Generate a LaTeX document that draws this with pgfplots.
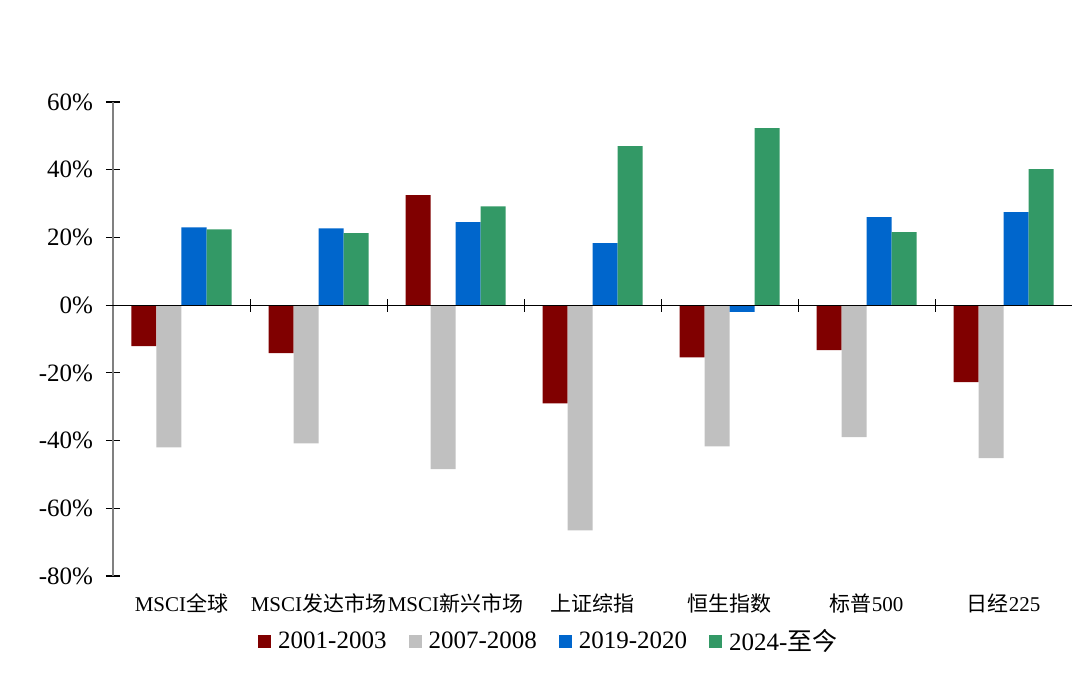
\documentclass[border=0pt]{standalone}
\usepackage{pgfplots}
\pgfplotsset{compat=1.18}
\usepackage{fontspec}
\setmainfont{Liberation Serif}
\newfontfamily\cjk{Noto Sans CJK SC}
\definecolor{cRed}{HTML}{800000}
\definecolor{cGray}{HTML}{C0C0C0}
\definecolor{cBlue}{HTML}{0066CC}
\definecolor{cGreen}{HTML}{339966}
\begin{document}
\begin{tikzpicture}
\begin{axis}[
    scale only axis,
    width=479.5pt, height=237pt,
    xmin=-0.5, xmax=6.5,
    ymin=-80, ymax=60,
    ytick={-80,-60,-40,-20,0,20,40,60},
    yticklabel={\pgfmathprintnumber{\tick}\%},
    /pgf/number format/assume math mode=true,
    xtick={0,1,2,3,4,5,6},
    xticklabels={MSCI{\cjk 全球}, MSCI{\cjk 发达市场}, MSCI{\cjk 新兴市场}, {\cjk 上证综指}, {\cjk 恒生指数}, {\cjk 标普}500, {\cjk 日经}225},
    axis x line*=bottom, axis y line*=left,
    x axis line style={draw=none},
    y axis line style={draw=gray, line width=0.8pt},
    major x tick style={draw=none},
    major y tick style={black, line width=0.6pt},
    tick align=center, major tick length=7pt,
    yticklabel style={font=\fontsize{12.5}{14}\selectfont, xshift=-3pt},
    xticklabel style={font=\fontsize{10.5}{12}\selectfont, yshift=-2pt},
    legend columns=4,
    legend style={at={(0.4555,-0.139)}, anchor=center, draw=none,
        font=\fontsize{12.5}{14}\selectfont,
        /tikz/every odd column/.style={column sep=1.5pt},
        /tikz/every even column/.style={column sep=9pt}},
    legend image code/.code={\fill[#1] (0pt,-3.2pt) rectangle (6.5pt,3.3pt);},
    clip=false,
]
\addplot[ybar, bar width=12.5pt, bar shift=-18.75pt, fill=cRed, draw=none] coordinates {
    (0,-12.1) (1,-14.2) (2,32.5) (3,-29.0) (4,-15.4) (5,-13.3) (6,-22.7)};
\addlegendentry{2001-2003}
\addplot[ybar, bar width=12.5pt, bar shift=-6.25pt, fill=cGray, draw=none] coordinates {
    (0,-42.0) (1,-40.8) (2,-48.4) (3,-66.5) (4,-41.7) (5,-39.0) (6,-45.2)};
\addlegendentry{2007-2008}
\addplot[ybar, bar width=12.5pt, bar shift=6.25pt, fill=cBlue, draw=none] coordinates {
    (0,23.0) (1,22.7) (2,24.5) (3,18.3) (4,-2.0) (5,26.0) (6,27.5)};
\addlegendentry{2019-2020}
\addplot[ybar, bar width=12.5pt, bar shift=18.75pt, fill=cGreen, draw=none] coordinates {
    (0,22.4) (1,21.3) (2,29.2) (3,47.0) (4,52.3) (5,21.6) (6,40.2)};
\addlegendentry{2024-{\cjk 至今}}
\draw[black, line width=0.6pt] ([xshift=-3.5pt]axis cs:-0.5,0) -- (axis cs:6.5,0);
\pgfplotsinvokeforeach{0.5,1.5,2.5,3.5,4.5,5.5}{
    \draw[black, line width=0.5pt] ([yshift=-3.3pt]axis cs:#1,0) -- ([yshift=3.3pt]axis cs:#1,0);
}
\end{axis}
\useasboundingbox (-56.5pt,-58pt) rectangle (483.5pt,288pt);
\end{tikzpicture}
\end{document}
